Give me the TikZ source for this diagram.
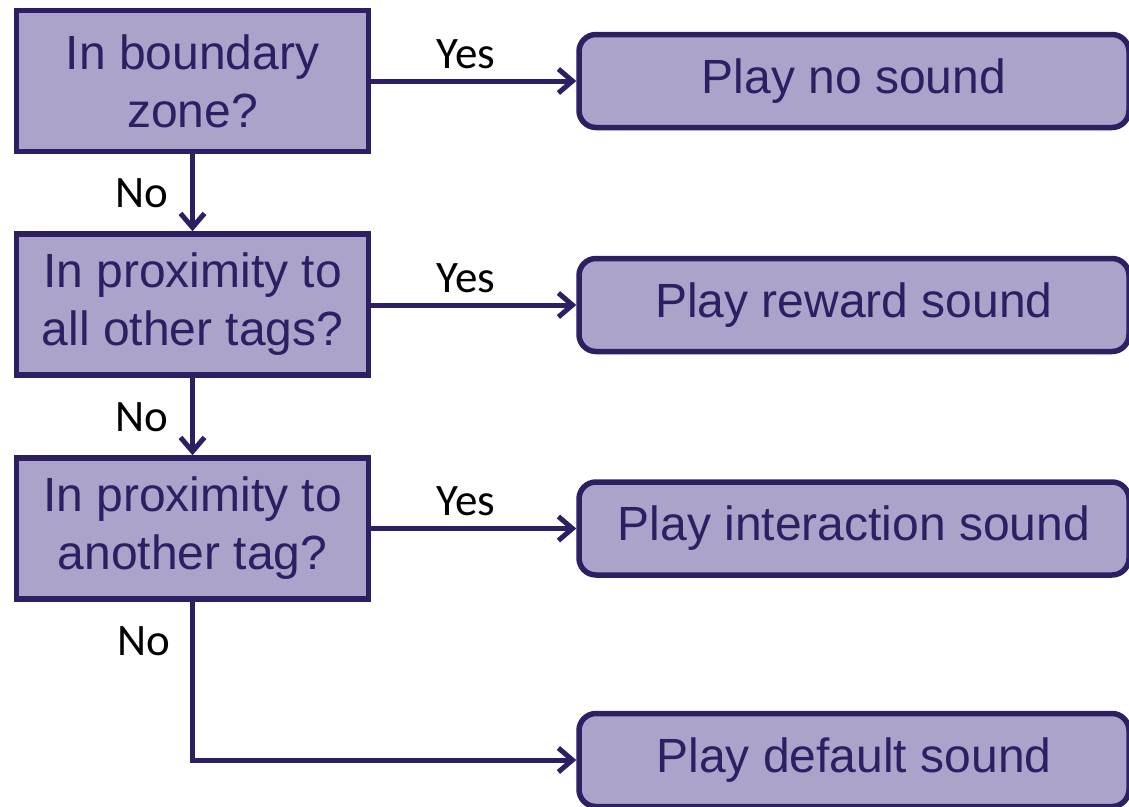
\documentclass[tikz,border=0pt]{standalone}
\usepackage{fontspec}
\setmainfont{Liberation Sans}
\newfontfamily\labelfont{Carlito}
\usetikzlibrary{arrows.meta}
\definecolor{boxfill}{HTML}{ABA3C9}
\definecolor{boxline}{HTML}{2E1F63}
\begin{document}
\begin{tikzpicture}[x=1pt,y=-1pt,
  qbox/.style={draw=boxline,fill=boxfill,line width=5.5pt,rectangle,
    minimum width=352pt,minimum height=141pt,inner sep=0pt,align=center,
    text=boxline,font=\fontsize{48}{58}\selectfont},
  abox/.style={draw=boxline,fill=boxfill,line width=5.5pt,rectangle,rounded corners=17pt,
    minimum width=550pt,minimum height=93pt,inner sep=0pt,align=center,
    text=boxline,font=\fontsize{48}{58}\selectfont},
  conn/.style={draw=boxline,line width=5pt,-{Straight Barb[length=14pt,width=24pt,line width=5pt]}},
  lbl/.style={font=\labelfont\fontsize{45}{50}\selectfont,text=black,inner sep=0pt}]
\useasboundingbox (0,0) rectangle (1129,806);
\node[qbox] (q1) at (192.5,81) {In boundary\\zone?};
\node[qbox] (q2) at (192.5,304.5) {In proximity to\\all other tags?};
\node[qbox] (q3) at (192.5,528.5) {In proximity to\\another tag?};
\node[abox] (a1) at (854,81) {Play no sound};
\node[abox] (a2) at (854,305) {Play reward sound};
\node[abox] (a3) at (854,528.5) {Play interaction sound};
\node[abox] (a4) at (854,760) {Play default sound};
\coordinate (corner) at (192.5,760);
\draw[conn] (q1) -- node[lbl,anchor=base,yshift=13pt,xshift=-8pt] {Yes} (a1);
\draw[conn] (q2.east |- a2) -- node[lbl,anchor=base,yshift=13pt,xshift=-8pt] {Yes} (a2);
\draw[conn] (q3) -- node[lbl,anchor=base,yshift=13pt,xshift=-8pt] {Yes} (a3);
\draw[conn] (q1) -- node[lbl,anchor=base east,xshift=-22pt,yshift=-15pt] {No} (q2);
\draw[conn] (q2) -- node[lbl,anchor=base east,xshift=-22pt,yshift=-15pt] {No} (q3);
\draw[conn] (q3.south) -- (corner) -- (a4);
\node[lbl,anchor=base east] (no3) at (170,655) {No};
\end{tikzpicture}
\end{document}
